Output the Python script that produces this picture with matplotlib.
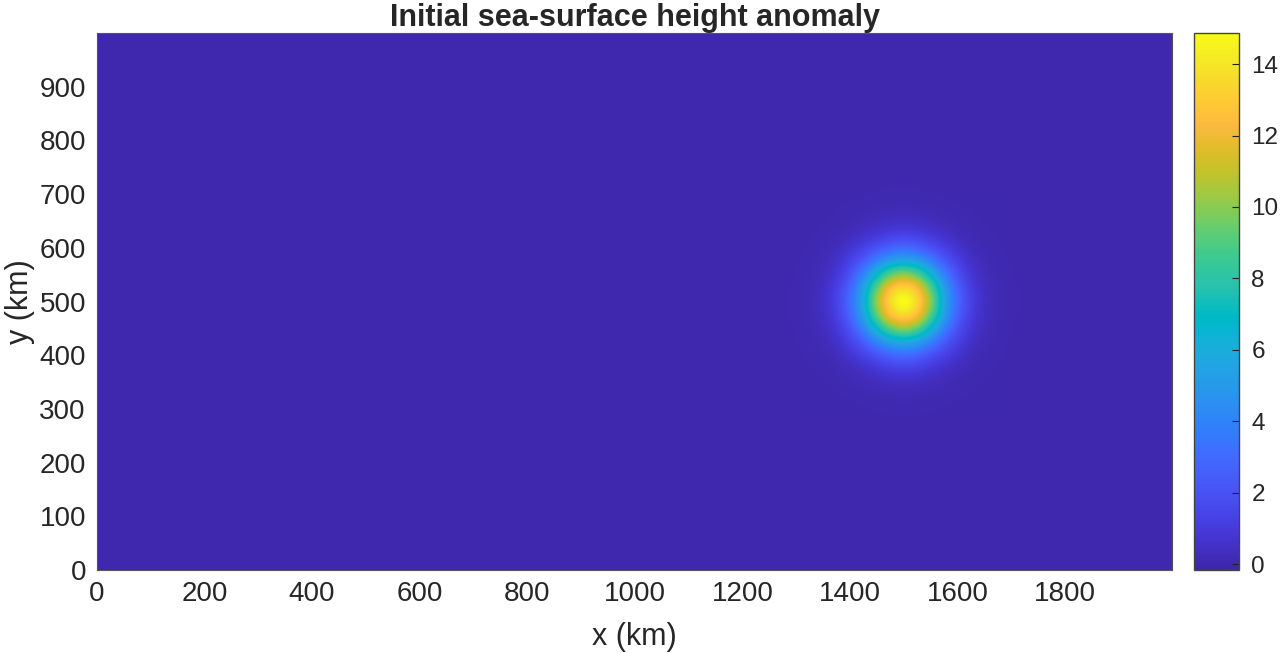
import numpy as np
import matplotlib
matplotlib.use("Agg")
import matplotlib.pyplot as plt
from matplotlib.colors import LinearSegmentedColormap, Normalize

plt.rcParams['font.family'] = ['Liberation Sans', 'DejaVu Sans']

# Height, one quadrant around the eddy centre
centre_x = 1500
centre_y = 500
offset_km = [0, 25, 50, 75, 100, 125, 150, 175, 200]
height_quadrant = [
    [14.87, 13.40, 10.10, 5.90, 3.00, 1.30, 0.50, 0.15, 0.04],
    [13.40, 12.30, 9.10, 5.40, 2.70, 1.18, 0.44, 0.13, 0.03],
    [10.10, 9.10, 6.70, 4.00, 2.00, 0.88, 0.32, 0.10, 0.02],
    [5.90, 5.40, 4.00, 2.40, 1.30, 0.56, 0.20, 0.06, 0.01],
    [3.00, 2.70, 2.00, 1.30, 0.70, 0.28, 0.10, 0.03, 0.00],
    [1.30, 1.18, 0.88, 0.56, 0.28, 0.12, 0.04, 0.01, 0.00],
    [0.50, 0.44, 0.32, 0.20, 0.10, 0.04, 0.01, 0.00, 0.00],
    [0.15, 0.13, 0.10, 0.06, 0.03, 0.01, 0.00, 0.00, 0.00],
    [0.04, 0.03, 0.02, 0.01, 0.00, 0.00, 0.00, 0.00, 0.00],
]
height_min = -0.16
height_max = 14.87

x_ticks = [0, 200, 400, 600, 800, 1000, 1200, 1400, 1600, 1800]
y_ticks = [0, 100, 200, 300, 400, 500, 600, 700, 800, 900]
cbar_ticks = [0, 2, 4, 6, 8, 10, 12, 14]

parula = [
    [0.2422, 0.1504, 0.6603], [0.2504, 0.1650, 0.7076], [0.2578, 0.1818, 0.7511], [0.2647, 0.1978, 0.7952],
    [0.2706, 0.2147, 0.8364], [0.2751, 0.2342, 0.8710], [0.2783, 0.2559, 0.8991], [0.2803, 0.2782, 0.9221],
    [0.2813, 0.3006, 0.9414], [0.2810, 0.3228, 0.9579], [0.2795, 0.3447, 0.9717], [0.2760, 0.3667, 0.9829],
    [0.2699, 0.3892, 0.9906], [0.2602, 0.4123, 0.9952], [0.2440, 0.4358, 0.9988], [0.2206, 0.4603, 0.9973],
    [0.1963, 0.4847, 0.9892], [0.1834, 0.5074, 0.9798], [0.1786, 0.5289, 0.9682], [0.1764, 0.5499, 0.9520],
    [0.1687, 0.5703, 0.9359], [0.1540, 0.5902, 0.9218], [0.1460, 0.6091, 0.9079], [0.1380, 0.6276, 0.8973],
    [0.1248, 0.6459, 0.8883], [0.1113, 0.6635, 0.8763], [0.0952, 0.6798, 0.8598], [0.0689, 0.6948, 0.8394],
    [0.0297, 0.7082, 0.8163], [0.0036, 0.7203, 0.7917], [0.0067, 0.7312, 0.7660], [0.0433, 0.7411, 0.7394],
    [0.0964, 0.7500, 0.7120], [0.1408, 0.7584, 0.6842], [0.1717, 0.7670, 0.6554], [0.1938, 0.7758, 0.6251],
    [0.2161, 0.7843, 0.5923], [0.2470, 0.7918, 0.5567], [0.2906, 0.7973, 0.5188], [0.3406, 0.8008, 0.4789],
    [0.3909, 0.8029, 0.4354], [0.4456, 0.8024, 0.3909], [0.5044, 0.7993, 0.3480], [0.5616, 0.7942, 0.3045],
    [0.6174, 0.7876, 0.2612], [0.6720, 0.7793, 0.2227], [0.7242, 0.7698, 0.1910], [0.7738, 0.7598, 0.1646],
    [0.8203, 0.7498, 0.1535], [0.8634, 0.7406, 0.1596], [0.9035, 0.7330, 0.1774], [0.9393, 0.7288, 0.2100],
    [0.9728, 0.7298, 0.2394], [0.9956, 0.7434, 0.2371], [0.9970, 0.7659, 0.2199], [0.9952, 0.7893, 0.2028],
    [0.9892, 0.8136, 0.1885], [0.9786, 0.8386, 0.1766], [0.9676, 0.8639, 0.1643], [0.9610, 0.8890, 0.1537],
    [0.9597, 0.9135, 0.1423], [0.9628, 0.9373, 0.1265], [0.9691, 0.9606, 0.1064], [0.9769, 0.9839, 0.0805],
]

W, H = 1280, 653
TEXT = '#262626'
EDGE = '#555555'

cmap = LinearSegmentedColormap.from_list('parula', parula, N=256)
norm = Normalize(height_min, height_max)

# mirror the quadrant into the whole patch
quad = np.array(height_quadrant)
top = np.hstack([quad[:, :0:-1], quad])
height = np.vstack([top[:0:-1], top])

half = offset_km[-1] + 12.5

fig = plt.figure(figsize=(W / 100, H / 100), dpi=100)
ax = fig.add_axes([97 / W, 1 - 570 / H, (1172 - 97) / W, (570 - 33) / H])
ax.set_facecolor(cmap(norm(0)))
# catrom goes through the samples, agg's bicubic flattens the peak
im = ax.imshow(height, cmap=cmap, norm=norm, interpolation='catrom', origin='lower',
               extent=[centre_x - half, centre_x + half, centre_y - half, centre_y + half],
               aspect='auto')
ax.set_xlim(0, 1999)
ax.set_ylim(0, 1000)
ax.set_xticks(x_ticks)
ax.set_yticks(y_ticks)
ax.tick_params(length=0, labelsize=20, labelcolor=TEXT, pad=8)
for s in ax.spines.values():
    s.set_color(EDGE)
    s.set_linewidth(0.8)
ax.set_xlabel('x (km)', fontsize=22, color=TEXT, labelpad=11)
ax.set_ylabel('y (km)', fontsize=22, color=TEXT, labelpad=3)
ax.set_title('Initial sea-surface height anomaly', fontsize=22, fontweight='bold', color=TEXT, pad=4)

cax = fig.add_axes([1194 / W, 1 - 570 / H, (1239 - 1194) / W, (570 - 33) / H])
cbar = fig.colorbar(im, cax=cax)
cbar.set_ticks(cbar_ticks)
cax.tick_params(direction='in', length=5, width=0.8, color='#222222', labelsize=17.5, labelcolor=TEXT, pad=9)
cbar.outline.set_edgecolor('#444444')
cbar.outline.set_linewidth(1)

fig.savefig("out.png", dpi=100)
